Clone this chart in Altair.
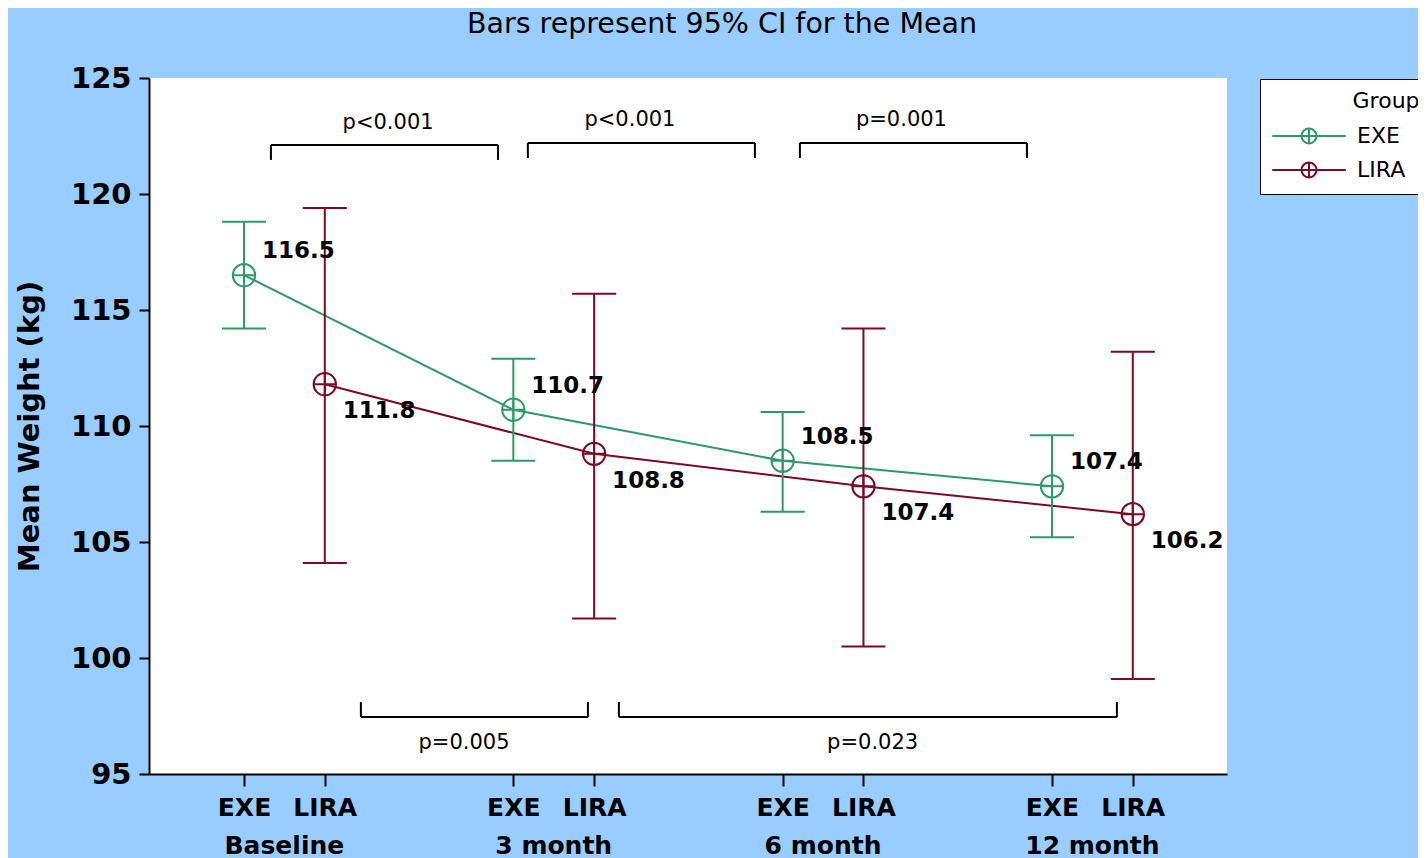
import altair as alt
import pandas as pd

# ---- data ----
times = ["Baseline", "3 month", "6 month", "12 month"]
groups = ["EXE", "LIRA"]
exe_mean = [116.5, 110.7, 108.5, 107.4]
exe_lo = [114.2, 108.5, 106.3, 105.2]
exe_hi = [118.8, 112.9, 110.6, 109.6]
lira_mean = [111.8, 108.8, 107.4, 106.2]
lira_lo = [104.1, 101.7, 100.5, 99.1]
lira_hi = [119.4, 115.7, 114.2, 113.2]
exe_labels = ["116.5", "110.7", "108.5", "107.4"]
lira_labels = ["111.8", "108.8", "107.4", "106.2"]

# significance brackets (x in time-index units, y in kg)
p_text = ["p<0.001", "p<0.001", "p=0.001", "p=0.005", "p=0.023"]
p_x_start = [0.100, 1.054, 2.064, 0.434, 1.392]
p_x_end = [0.943, 1.897, 2.907, 1.277, 3.241]
p_line_y = [122.11, 122.2, 122.2, 97.46, 97.46]
p_tip_y = [121.47, 121.55, 121.55, 98.1, 98.1]
p_label_x = [0.535, 1.433, 2.441, 0.817, 2.334]
p_label_y = [123.06, 123.19, 123.19, 96.34, 96.34]

group_offset = {"EXE": 0.0, "LIRA": 0.3}
colors = ["#2E9A66", "#7D0A24"]
FONT = "DejaVu Sans"

rows = []
for i, t in enumerate(times):
    for g, m, lo, hi, lab in [("EXE", exe_mean[i], exe_lo[i], exe_hi[i], exe_labels[i]),
                              ("LIRA", lira_mean[i], lira_lo[i], lira_hi[i], lira_labels[i])]:
        rows.append({"time": t, "t": i, "group": g, "pos": i + group_offset[g],
                     "mean": m, "lo": lo, "hi": hi, "label": lab})
df = pd.DataFrame(rows)

br = pd.DataFrame({"text": p_text, "x1": p_x_start, "x2": p_x_end, "y": p_line_y,
                   "tip": p_tip_y, "lx": p_label_x, "ly": p_label_y})
tl = pd.DataFrame({"time": times, "mid": [i + 0.15 for i in range(len(times))]})

W, H = 1078, 696
xdom = [-0.3527, 3.6498]
xscale = alt.Scale(domain=xdom, nice=False, zero=False)
yscale = alt.Scale(domain=[95, 125], nice=False, zero=False)
tick_positions = sorted(df["pos"].tolist())

x_axis = alt.Axis(values=tick_positions, title=None, grid=False,
                  labelExpr="abs(datum.value - round(datum.value)) < 0.01 ? 'EXE' : 'LIRA'",
                  labelFont=FONT, labelFontSize=25, labelFontWeight="bold", labelColor="black",
                  tickSize=12, tickColor="black", tickWidth=2, domainColor="black", domainWidth=2,
                  labelPadding=9, labelOverlap=False, labelFlush=False)
y_axis = alt.Axis(values=[95, 100, 105, 110, 115, 120, 125], title="Mean Weight (kg)", grid=False,
                  labelFont=FONT, labelFontSize=29, labelFontWeight="bold", labelColor="black",
                  titleFont=FONT, titleFontSize=29, titleFontWeight="bold", titleColor="black",
                  tickSize=10, tickColor="black", tickWidth=2, domainColor="black", domainWidth=2,
                  labelPadding=8, titlePadding=26)

color_scale = alt.Scale(domain=groups, range=colors)
legend_symbol = "M-4.9,0L4.9,0M-1,0A1,1,0,1,1,1,0A1,1,0,1,1,-1,0M0,-1L0,1"
legend_title = "\u2800" * 5 + "Group"

base = alt.Chart(df)

lines = base.mark_line(strokeWidth=2).encode(
    x=alt.X("pos:Q", scale=xscale, axis=x_axis),
    y=alt.Y("mean:Q", scale=yscale, axis=y_axis),
    color=alt.Color("group:N", scale=color_scale, legend=None),
    detail="group:N",
    order="t:Q",
)

bars = base.mark_rule(strokeWidth=2, opacity=1).encode(
    x=alt.X("pos:Q", scale=xscale),
    y=alt.Y("lo:Q", scale=yscale),
    y2="hi:Q",
    color=alt.Color("group:N", scale=color_scale, legend=None),
)

caps_lo = base.mark_tick(orient="horizontal", size=44, thickness=2, opacity=1).encode(
    x=alt.X("pos:Q", scale=xscale),
    y=alt.Y("lo:Q", scale=yscale),
    color=alt.Color("group:N", scale=color_scale, legend=None),
)
caps_hi = base.mark_tick(orient="horizontal", size=44, thickness=2, opacity=1).encode(
    x=alt.X("pos:Q", scale=xscale),
    y=alt.Y("hi:Q", scale=yscale),
    color=alt.Color("group:N", scale=color_scale, legend=None),
)

points = base.mark_point(
    shape="M-1,0A1,1,0,1,1,1,0A1,1,0,1,1,-1,0ZM-1,0L1,0M0,-1L0,1",
    filled=False, size=500, strokeWidth=2, opacity=1,
).encode(
    x=alt.X("pos:Q", scale=xscale),
    y=alt.Y("mean:Q", scale=yscale),
    color=alt.Color("group:N", scale=color_scale,
                    legend=alt.Legend(
                        title=legend_title, orient="none", legendX=1111, legendY=1,
                        strokeColor="black", fillColor="white", padding=12,
                        titleFont=FONT, titleFontSize=22, titleFontWeight="normal",
                        titleColor="black", titleAnchor="start", titleLimit=400,
                        labelFont=FONT, labelFontSize=22, labelColor="black",
                        symbolType=legend_symbol, symbolSize=225, symbolStrokeWidth=2,
                        symbolFillColor="transparent", symbolOpacity=1,
                        symbolOffset=26, labelOffset=37, rowPadding=10, titlePadding=12)),
)

exe_text = alt.Chart(df[df.group == "EXE"]).mark_text(
    align="left", baseline="middle", dx=18, dy=-24,
    font=FONT, fontSize=23, fontWeight="bold", color="black",
).encode(x=alt.X("pos:Q", scale=xscale), y=alt.Y("mean:Q", scale=yscale), text="label:N")

lira_text = alt.Chart(df[df.group == "LIRA"]).mark_text(
    align="left", baseline="middle", dx=18, dy=27,
    font=FONT, fontSize=23, fontWeight="bold", color="black",
).encode(x=alt.X("pos:Q", scale=xscale), y=alt.Y("mean:Q", scale=yscale), text="label:N")

bchart = alt.Chart(br)
br_h = bchart.mark_rule(color="black", strokeWidth=2).encode(
    x=alt.X("x1:Q", scale=xscale), x2="x2:Q", y=alt.Y("y:Q", scale=yscale))
br_l = bchart.mark_rule(color="black", strokeWidth=2).encode(
    x=alt.X("x1:Q", scale=xscale), y=alt.Y("y:Q", scale=yscale), y2="tip:Q")
br_r = bchart.mark_rule(color="black", strokeWidth=2).encode(
    x=alt.X("x2:Q", scale=xscale), y=alt.Y("y:Q", scale=yscale), y2="tip:Q")
br_t = bchart.mark_text(font=FONT, fontSize=21, color="black", baseline="middle").encode(
    x=alt.X("lx:Q", scale=xscale), y=alt.Y("ly:Q", scale=yscale), text="text:N")

time_text = alt.Chart(tl).mark_text(
    font=FONT, fontSize=25, fontWeight="bold", color="black", baseline="middle",
).encode(x=alt.X("mid:Q", scale=xscale), y=alt.value(H + 72), text="time:N")

chart = alt.layer(
    lines, bars, caps_lo, caps_hi, points, exe_text, lira_text,
    br_h, br_l, br_r, br_t, time_text,
).resolve_legend(color="independent").properties(
    width=W, height=H,
    title=alt.TitleParams("Bars represent 95% CI for the Mean", font=FONT, fontSize=28.5,
                          fontWeight="normal", color="black", anchor="middle", dx=34,
                          offset=26, frame="group"),
    autosize=alt.AutoSizeParams(type="none"),
    padding={"left": 141, "top": 70, "right": 191, "bottom": 84},
    background="#99CCFF",
).configure_view(fill="white", stroke=None)

chart.save("out.html", embed_options={"renderer": "svg", "actions": False})
